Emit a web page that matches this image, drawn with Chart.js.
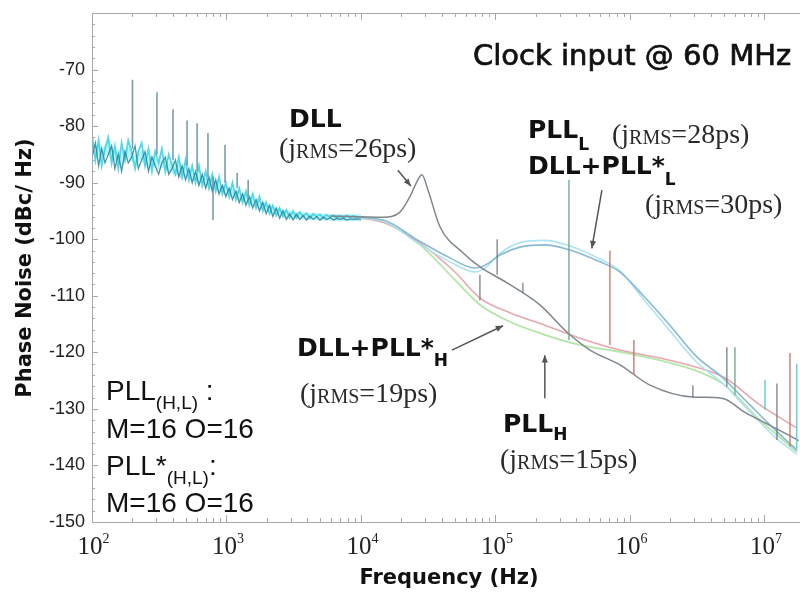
<!DOCTYPE html>
<html>
<head>
<meta charset="utf-8">
<script src="https://cdn.jsdelivr.net/npm/chart.js@4"></script>
<style>
  html, body { margin: 0; background: #fff; }
</style>
</head>
<body>
<canvas id="c" width="800" height="593"></canvas>
<script>
// ---- data (Hz, dBc/Hz) ----
const baseFreq = [
  100, 106, 112, 118, 125, 132, 140, 148, 157, 166,
  176, 186, 197, 209, 221, 234, 248, 263, 279, 295,
  313, 331, 351, 372, 394, 417, 442, 468, 496, 525,
  556, 589, 624, 661, 700, 741, 785, 832, 881, 933,
  989, 1047, 1109, 1175, 1245, 1318, 1396, 1479, 1567, 1660,
  1758, 1862, 1972, 2089, 2213, 2344, 2483, 2630, 2786, 2951,
  3126, 3311, 3508, 3715, 3936, 4169, 4416, 4678, 4955, 5248,
  5560, 5890, 6240, 6610, 7000, 7420, 7860, 8320, 8810, 9330,
  10000
];
const baseCyan = [
  -81.5, -86.0, -82.5, -87.0, -84.0, -82.0, -86.5, -83.5, -87.5, -83.0,
  -86.0, -82.5, -84.5, -87.5, -84.5, -83.0, -87.0, -84.0, -88.0, -84.5,
  -86.5, -84.0, -88.0, -85.0, -87.0, -88.5, -85.5, -89.0, -86.0, -89.5,
  -87.0, -90.0, -87.0, -90.5, -88.0, -91.0, -88.5, -91.5, -89.0, -92.0,
  -90.0, -92.5, -90.0, -93.0, -91.0, -93.5, -91.5, -94.0, -92.0, -94.5,
  -92.5, -95.0, -93.5, -95.5, -94.0, -95.8, -94.5, -96.0, -94.8, -96.2,
  -95.0, -96.2, -95.2, -96.0, -95.4, -96.3, -95.5, -96.0, -95.6, -96.2,
  -95.7, -96.1, -95.8, -96.2, -95.9, -96.1, -95.8, -96.1, -95.9, -96.1,
  -96.0
];
const baseTeal = [
  -85.5, -83.0, -87.0, -84.0, -86.5, -85.0, -83.5, -87.5, -85.0, -88.0,
  -84.5, -86.5, -85.5, -83.5, -87.5, -86.0, -84.5, -88.0, -85.5, -87.0,
  -88.5, -86.5, -85.5, -88.5, -87.5, -86.0, -89.0, -87.0, -89.5, -87.5,
  -90.0, -88.0, -90.5, -88.5, -91.0, -89.0, -91.5, -89.5, -92.0, -90.5,
  -92.5, -91.0, -93.0, -91.5, -93.5, -92.0, -94.0, -92.5, -94.5, -93.0,
  -95.0, -93.5, -95.5, -94.0, -96.0, -94.5, -96.3, -95.0, -96.5, -95.5,
  -96.6, -95.6, -96.5, -95.8, -96.6, -95.9, -96.5, -96.0, -96.6, -96.1,
  -96.5, -96.2, -96.6, -96.3, -96.5, -96.3, -96.6, -96.4, -96.5, -96.4,
  -96.5
];
const baseWash = [
  -83.5, -84.5, -84.0, -85.0, -84.5, -83.5, -85.0, -85.5, -85.0, -86.0,
  -85.0, -84.5, -85.5, -86.0, -85.5, -85.0, -86.0, -86.5, -86.0, -86.5,
  -87.0, -86.5, -87.0, -87.5, -87.0, -88.0, -87.5, -88.5, -88.0, -88.5,
  -89.0, -89.0, -89.5, -89.5, -90.0, -90.0, -90.5, -90.5, -91.0, -91.0,
  -91.5, -91.5, -92.0, -92.0, -92.5, -92.5, -93.0, -93.0, -93.5, -93.5,
  -94.0, -94.0, -94.5, -94.5, -95.0, -95.0, -95.3, -95.3, -95.6, -95.6,
  -95.8, -95.8, -95.9, -95.9, -96.0, -96.0, -96.0, -96.0, -96.1, -96.1,
  -96.1, -96.1, -96.1, -96.2, -96.2, -96.2, -96.2, -96.2, -96.2, -96.2,
  -96.2
];

const dllFreq = [5900, 14600, 19500, 23100, 26500, 28400, 31500, 38700, 57300, 76700,
  122000, 214000, 340000, 505000, 844000, 1410000, 2940000, 4830000, 7160000, 11000000, 18000000];
const dllDb = [-95.9, -96.1, -95.2, -92.5, -89.5, -88.6, -91.3, -97.8, -102.4, -104.9,
  -107.7, -111.6, -116.4, -119.6, -122.2, -125.8, -127.9, -128.1, -130.6, -132.9, -135.6];

const pllLFreq = [5900, 14600, 26100, 45900, 70500, 86500, 108000, 152000, 233000, 358000,
  599000, 844000, 1250000, 1980000, 3150000, 4910000, 7800000, 12000000, 17500000];
const pllLDb = [-95.9, -96.6, -100.1, -103.3, -105.1, -104.4, -102.8, -101.4, -101.0, -101.9,
  -104.0, -105.8, -109.9, -115.2, -120.8, -124.5, -129.3, -133.7, -137.3];
const dllPllLDb = [-95.9, -96.8, -100.6, -104.0, -105.8, -104.8, -102.5, -100.6, -100.2, -101.2,
  -103.5, -105.6, -110.5, -116.2, -121.8, -125.5, -130.5, -135.0, -138.0];

const pllHFreq = [5900, 14600, 27500, 50000, 76700, 128000, 233000, 425000, 844000, 1670000,
  3310000, 5080000, 9270000, 17500000];
const pllHDb = [-95.9, -97.0, -101.0, -107.2, -111.6, -114.6, -116.9, -118.7, -119.9, -121.4,
  -123.5, -125.8, -132.0, -137.6];
const dllPllHDb = [-95.9, -97.0, -100.7, -105.8, -110.4, -113.0, -115.2, -117.5, -119.6, -121.0,
  -122.8, -124.5, -129.3, -133.4];

// spurs: [frequency, from dB, to dB]
const lowSpurs = [[200, -84, -71.8], [304, -85, -74], [400, -86, -77], [509, -87, -79],
  [605, -88, -79.5], [728, -89, -81.2], [794, -89, -96.6], [975, -90, -83.3], [1200, -91, -88.3],
  [1450, -92.5, -89.5]];
const graySpurs = [[76700, -106.3, -110.8], [103000, -100.0, -106.3], [160000, -107.7, -109.5],
  [2940000, -125.8, -128.0], [5260000, -119.1, -126.1], [12400000, -125.5, -135.5]];
const greenSpurs = [[352000, -89.5, -117.8], [6040000, -119.1, -127.6]];
const redSpurs = [[710000, -102.0, -118.7], [1070000, -117.8, -124.0], [15500000, -120.1, -136.7]];
const cyanSpurs = [[10100000, -124.9, -130.2], [17400000, -122.0, -137.0]];

const yTicks = [-150, -140, -130, -120, -110, -100, -90, -80, -70];
const xDecades = [2, 3, 4, 5, 6, 7];

// annotation arrows: [tail], [head] in (Hz, dB)
const arrows = [
  [[18800, -87.8], [23500, -90.6]],
  [[619000, -91.3], [521000, -101.6]],
  [[47500, -119.6], [114000, -115.3]],
  [[233000, -128.1], [233000, -120.5]]
];

// ---- drawing ----
const F = {
  clock: '29px "DejaVu Sans"',
  bold: 'bold 25px "DejaVu Sans"',
  sub: 'bold 17px "DejaVu Sans"',
  serif: '28px "Liberation Serif"',
  serifS: '20px "Liberation Serif"',
  note: '28px "Liberation Sans"',
  noteSub: '19px "Liberation Sans"'
};
const jrms = v => [['(j', F.serif], ['RMS', F.serifS, 1], ['=' + v + 'ps)', F.serif]];

const labels = [
  { x: 473, y: 65, parts: [['Clock input @ 60 MHz', F.clock]], heavy: true },
  { x: 289, y: 127, parts: [['DLL', F.bold]] },
  { x: 279, y: 157, parts: jrms('26') },
  { x: 528, y: 138, parts: [['PLL', F.bold], ['L', F.sub, 12]] },
  { x: 612, y: 143, parts: jrms('28') },
  { x: 528, y: 174, parts: [['DLL+PLL*', F.bold], ['L', F.sub, 11]] },
  { x: 645, y: 213, parts: jrms('30') },
  { x: 297, y: 356, parts: [['DLL+PLL*', F.bold], ['H', F.sub, 10]] },
  { x: 300, y: 402, parts: jrms('19') },
  { x: 503, y: 432, parts: [['PLL', F.bold], ['H', F.sub, 8]] },
  { x: 500, y: 468, parts: jrms('15') },
  { x: 106, y: 400, parts: [['PLL', F.note], ['(H,L)', F.noteSub, 9], [' :', F.note]] },
  { x: 106, y: 438, parts: [['M=16 O=16', F.note]] },
  { x: 106, y: 475, parts: [['PLL*', F.note], ['(H,L)', F.noteSub, 9], [':', F.note]] },
  { x: 106, y: 512, parts: [['M=16 O=16', F.note]] }
];

function runs(ctx, x, y, parts, heavy) {
  for (const [text, font, dy] of parts) {
    ctx.font = font;
    ctx.fillText(text, x, y + (dy || 0));
    if (heavy) ctx.strokeText(text, x, y + (dy || 0));
    x += ctx.measureText(text).width;
  }
}

const pts = (f, d) => f.map((x, i) => ({ x, y: d[i] }));
const spurPts = list => list.flatMap(([f, a, b]) => [{ x: f, y: a }, { x: f, y: b }, { x: f, y: null }]);
const line = (label, data, color, width, smooth) => ({
  label, data, borderColor: color, borderWidth: width, pointRadius: 0,
  fill: false, tension: 0, spanGaps: false,
  cubicInterpolationMode: smooth ? 'monotone' : 'default'
});

const frame = {
  id: 'frame',
  afterDraw(chart) {
    const { ctx, chartArea: a, scales: { x, y } } = chart;
    ctx.save();
    ctx.strokeStyle = '#a8a8a8';
    ctx.lineWidth = 1;
    ctx.beginPath();
    ctx.moveTo(a.left + 0.5, a.top); ctx.lineTo(a.left + 0.5, a.bottom);
    ctx.moveTo(a.left, a.bottom + 0.5); ctx.lineTo(a.right, a.bottom + 0.5);
    ctx.moveTo(a.left, a.top + 0.5); ctx.lineTo(a.right, a.top + 0.5);
    for (let v = -150; v <= -60; v += 2) {
      const py = Math.round(y.getPixelForValue(v)) + 0.5;
      ctx.moveTo(a.left, py); ctx.lineTo(a.left + (v % 10 === 0 ? 6 : 3), py);
    }
    for (const d of xDecades) {
      for (let m = 1; m <= 9; m++) {
        const f = m * Math.pow(10, d);
        if (f > x.max) break;
        const px = Math.round(x.getPixelForValue(f)) + 0.5;
        const len = m === 1 ? 7 : 4;
        ctx.moveTo(px, a.bottom); ctx.lineTo(px, a.bottom - len);
        ctx.moveTo(px, a.top); ctx.lineTo(px, a.top + len);
      }
    }
    ctx.stroke();

    // tick labels
    ctx.fillStyle = '#222';
    ctx.font = '18px "Liberation Sans"';
    ctx.textAlign = 'right';
    ctx.textBaseline = 'middle';
    for (const v of yTicks) ctx.fillText(String(v), a.left - 7, y.getPixelForValue(v));
    ctx.textAlign = 'left';
    ctx.textBaseline = 'alphabetic';
    for (const d of xDecades) {
      const px = x.getPixelForValue(Math.pow(10, d));
      ctx.font = '25px "Liberation Serif"';
      const w = ctx.measureText('10').width;
      runs(ctx, px - 2 - w / 2, a.bottom + 32, [['10', '25px "Liberation Serif"'], [String(d), '14px "Liberation Serif"', -11]]);
    }

    // axis titles
    ctx.fillStyle = '#111';
    ctx.font = 'bold 21px "DejaVu Sans"';
    ctx.textAlign = 'center';
    ctx.textBaseline = 'middle';
    ctx.fillText('Frequency (Hz)', 449, 579);
    ctx.save();
    ctx.translate(26, 268);
    ctx.rotate(-Math.PI / 2);
    ctx.fillText('Phase Noise (dBc/ Hz)', 0, 0);
    ctx.restore();

    // annotations
    ctx.textAlign = 'left';
    ctx.textBaseline = 'alphabetic';
    for (const l of labels) {
      ctx.fillStyle = l.parts[0][1] === F.serif ? '#2a2a2a' : '#111';
      ctx.strokeStyle = '#111';
      ctx.lineWidth = 0.7;
      runs(ctx, l.x, l.y, l.parts, l.heavy);
    }
    ctx.strokeStyle = '#555';
    ctx.fillStyle = '#555';
    ctx.lineWidth = 1.5;
    for (const [[f0, d0], [f1, d1]] of arrows) {
      const x0 = x.getPixelForValue(f0), y0 = y.getPixelForValue(d0);
      const x1 = x.getPixelForValue(f1), y1 = y.getPixelForValue(d1);
      const ang = Math.atan2(y1 - y0, x1 - x0);
      ctx.beginPath(); ctx.moveTo(x0, y0); ctx.lineTo(x1, y1); ctx.stroke();
      ctx.beginPath();
      ctx.moveTo(x1, y1);
      ctx.lineTo(x1 - 8 * Math.cos(ang - 0.4), y1 - 8 * Math.sin(ang - 0.4));
      ctx.lineTo(x1 - 8 * Math.cos(ang + 0.4), y1 - 8 * Math.sin(ang + 0.4));
      ctx.closePath(); ctx.fill();
    }
    ctx.restore();
  }
};

new Chart(document.getElementById('c'), {
  type: 'line',
  data: {
    datasets: [
      line('spurs gray', spurPts(graySpurs), 'rgba(110,118,125,0.85)', 1.4),
      line('spurs green', spurPts(greenSpurs), 'rgba(110,170,140,0.85)', 1.6),
      line('spurs red', spurPts(redSpurs), 'rgba(200,120,110,0.85)', 1.6),
      line('spurs cyan', spurPts(cyanSpurs), 'rgba(90,200,220,0.85)', 1.6),
      line('DLL', pts(dllFreq, dllDb), '#7e878e', 1.5, true),
      line('low spurs', spurPts(lowSpurs), 'rgba(100,140,160,0.85)', 1.6),
      line('base teal', pts(baseFreq, baseTeal), 'rgba(40,130,150,0.85)', 1.3),
      line('base cyan', pts(baseFreq, baseCyan), 'rgba(60,214,232,0.9)', 1.8),
      line('base wash', pts(baseFreq, baseWash), 'rgba(170,238,248,0.8)', 7),
      line('PLL_L', pts(pllLFreq, pllLDb), '#88bad3', 1.6, true),
      line('DLL+PLL*_L', pts(pllLFreq, dllPllLDb), '#aee3f2', 1.6, true),
      line('DLL+PLL*_H', pts(pllHFreq, dllPllHDb), '#e7a8ad', 1.6, true),
      line('PLL_H', pts(pllHFreq, pllHDb), '#b3e6a6', 1.8, true)
    ]
  },
  options: {
    responsive: false,
    animation: false,
    devicePixelRatio: 1,
    layout: { padding: { top: 13, right: 0, left: 0, bottom: 0 } },
    plugins: { legend: { display: false }, tooltip: { enabled: false } },
    scales: {
      x: {
        type: 'logarithmic', min: 100, max: 1.84e7,
        ticks: { display: false },
        grid: { display: false, drawTicks: false },
        border: { display: false },
        afterFit: s => { s.height = 71; }
      },
      y: {
        type: 'linear', min: -150, max: -60,
        ticks: { display: false },
        grid: { display: false, drawTicks: false },
        border: { display: false },
        afterFit: s => { s.width = 92; }
      }
    }
  },
  plugins: [frame]
});
</script>
</body>
</html>
